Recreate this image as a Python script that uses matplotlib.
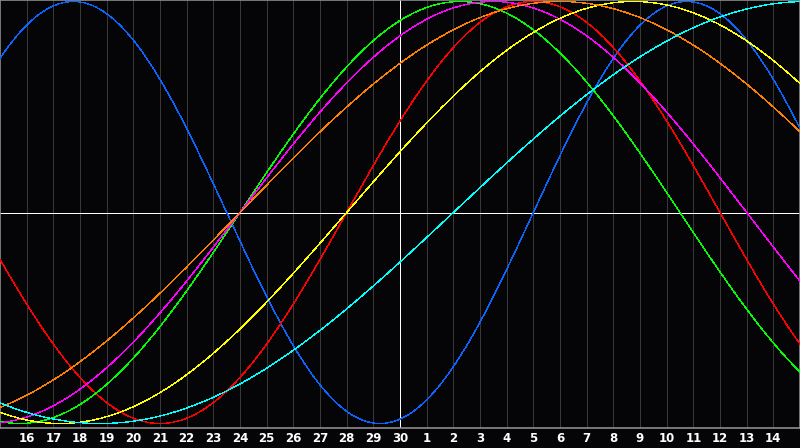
import numpy as np
import matplotlib
matplotlib.use("Agg")
import matplotlib.pyplot as plt

# days shown along the bottom (gridline labels), window starts on the 15th
day_labels = [str(d) for d in range(16, 31)] + [str(d) for d in range(1, 15)]
today_index = 15          # the "30" column, marked by the white vertical line
n_days = 30

# cycles: period in days and days into the cycle at the left edge
cycle_names = ["physical", "emotional", "intellectual", "intuitive",
               "aesthetic", "awareness", "spiritual"]
periods = [23, 28, 33, 38, 43, 48, 53]
phase_at_start = [3.0, 15.0, 24.0, 29.0, 30.0, 39.0, 36.0]
colors = ["#0a64ff", "#ff0000", "#00ff00", "#ff00ff",
          "#ffff00", "#ff8000", "#00ffff"]

fig = plt.figure(figsize=(8, 4.48), dpi=100, facecolor="#050508")
ax = fig.add_axes([0, 20 / 448, 1, 428 / 448])
ax.set_facecolor("#050508")

ax.set_xlim(0, n_days)
ax.set_ylim(-1.0213, 1.0071)

# day gridlines
for k in range(1, n_days):
    ax.axvline(k, color="#383838", lw=0.5, antialiased=False, zorder=1)

ax.axhline(0, color="white", lw=0.5, antialiased=False, zorder=2)
ax.axvline(today_index, color="white", lw=0.5, antialiased=False, zorder=2)

d = np.linspace(0, n_days, 1200)
for name, p, ph, c in zip(cycle_names, periods, phase_at_start, colors):
    ax.plot(d, np.sin(2 * np.pi * (d + ph) / p), color=c, lw=0.25,
            antialiased=False, label=name, zorder=3)

for s in ax.spines.values():
    s.set_color("#8c8c8c")
    s.set_linewidth(1.2)

ax.set_yticks([])
ax.set_xticks(range(1, n_days))
ax.set_xticklabels(day_labels)
ax.tick_params(axis="x", length=0, pad=3, colors="white", labelsize=8.5)
for t in ax.get_xticklabels():
    t.set_fontweight("bold")

plt.savefig("out.png", dpi=100, facecolor=fig.get_facecolor())
